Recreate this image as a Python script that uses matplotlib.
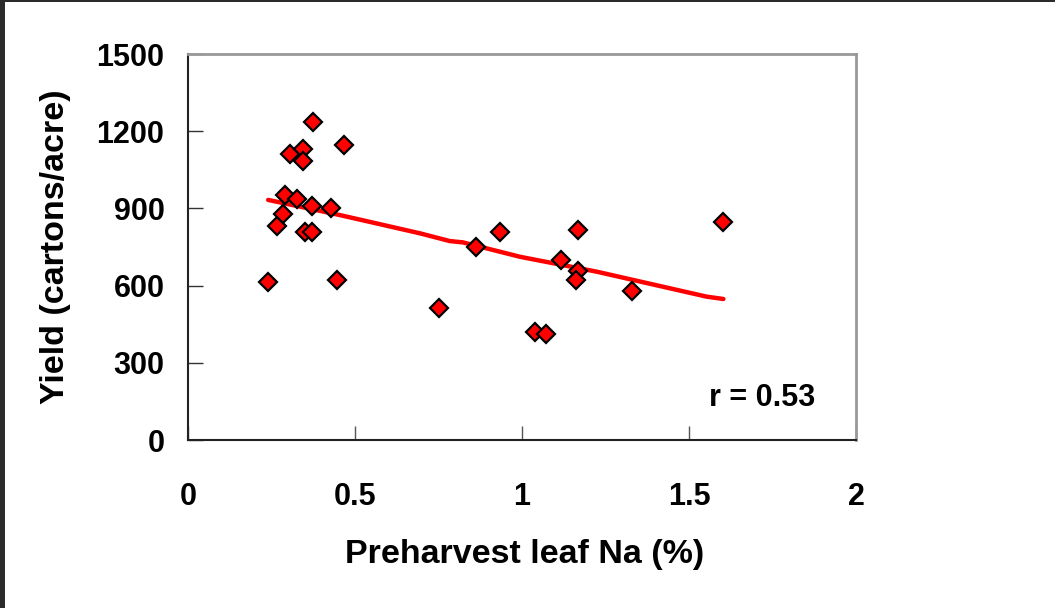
import matplotlib
matplotlib.use("Agg")
import matplotlib.pyplot as plt
from matplotlib.patches import Rectangle

plt.rcParams['font.family'] = ['Liberation Sans', 'DejaVu Sans']
plt.rcParams['font.weight'] = 'bold'

# Data
leaf_na = [0.240, 0.266, 0.285, 0.290, 0.305, 0.325, 0.345, 0.345, 0.350, 0.370,
           0.370, 0.375, 0.428, 0.447, 0.467, 0.752, 0.862, 0.934, 1.039, 1.072,
           1.117, 1.169, 1.169, 1.162, 1.330, 1.603]
yield_ = [615, 832, 877, 952, 1111, 937, 1130, 1084, 807, 909,
          807, 1237, 903, 622, 1146, 513, 749, 807, 421, 411,
          699, 816, 658, 622, 579, 848]

trend_x = [0.240, 0.455, 0.695, 0.784, 0.823, 0.994, 1.224, 1.553, 1.603]
trend_y = [933, 874, 803, 773, 768, 712, 654, 557, 548]

x_ticks = [0, 0.5, 1, 1.5, 2]
x_tick_labels = ['0', '0.5', '1', '1.5', '2']
y_ticks = [0, 300, 600, 900, 1200, 1500]

fig = plt.figure(figsize=(10.55, 6.08), dpi=100)
ax = fig.add_axes([188/1055, 1 - 440/608, (856-188)/1055, (440-54)/608])

ax.plot(trend_x, trend_y, color='#ff0000', lw=3.2, solid_capstyle='round', zorder=2)
ax.plot(leaf_na, yield_, linestyle='none', marker='D', markersize=9,
        markerfacecolor='#ff0000', markeredgecolor='black', markeredgewidth=1.6, zorder=3)

ax.set_xlim(0, 2)
ax.set_ylim(0, 1500)
ax.set_xticks(x_ticks)
ax.set_xticklabels(x_tick_labels)
ax.set_yticks(y_ticks)
ax.tick_params(axis='x', direction='in', length=10, width=1, pad=30, labelsize=22, color='#555555')
ax.tick_params(axis='y', direction='in', length=11, width=1, pad=17, labelsize=22, color='#333333')
for lbl in ax.get_xticklabels() + ax.get_yticklabels():
    lbl.set_fontweight('bold')

ax.spines['left'].set_color('#222222')
ax.spines['left'].set_linewidth(1.5)
ax.spines['bottom'].set_color('#222222')
ax.spines['bottom'].set_linewidth(1.5)
ax.spines['top'].set_color('#999999')
ax.spines['top'].set_linewidth(2)
ax.spines['right'].set_color('#999999')
ax.spines['right'].set_linewidth(2)

ax.set_xlabel('Preharvest leaf Na (%)', fontsize=24.5, fontweight='bold', va='center')
ax.set_ylabel('Yield (cartons/acre)', fontsize=24.5, fontweight='bold', va='center')
ax.xaxis.set_label_coords((525 - 188) / 668, (440 - 555) / 386)
ax.yaxis.set_label_coords((55 - 188) / 668, (440 - 247) / 386)

ax.text(762/1055, 1 - 398/608, 'r = 0.53', transform=fig.transFigure, fontsize=22,
        fontweight='bold', ha='center', va='center')

# figure frame strips
fig.patches.append(Rectangle((0, 0), 5/1055, 1, transform=fig.transFigure,
                             facecolor='#2b2b2b', edgecolor='none', zorder=10))
fig.patches.append(Rectangle((0, 1 - 2/608), 1, 2/608, transform=fig.transFigure,
                             facecolor='#2b2b2b', edgecolor='none', zorder=10))

fig.savefig('out.png', dpi=100)
